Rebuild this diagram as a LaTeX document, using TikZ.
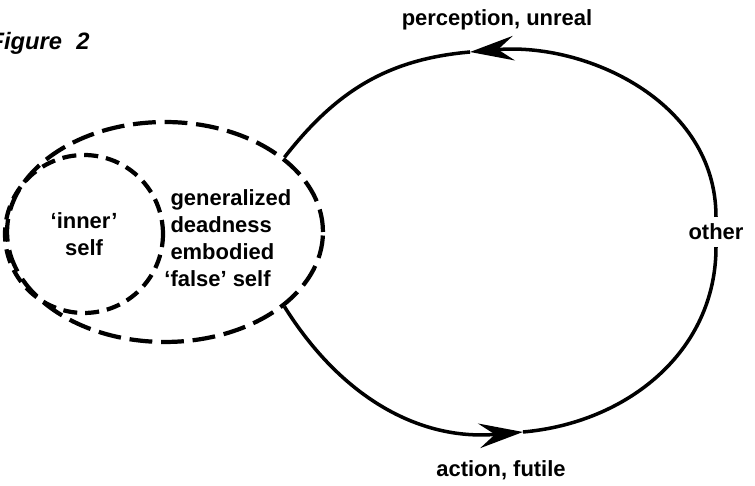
\documentclass[tikz,border=0pt]{standalone}
\usepackage{fontspec}
\setmainfont{Liberation Sans}
\usetikzlibrary{arrows.meta,shapes.geometric}

\begin{document}
\begin{tikzpicture}[x=0.02cm,y=0.02cm,>={Stealth[length=25pt,width=14pt,inset=9pt]},line width=2pt,font=\bfseries\fontsize{12.5}{15.3}\selectfont]
  \tikzstyle{dashy}=[draw,dash pattern=on 13pt off 5pt,line width=2.4pt]
  \tikzstyle{txt}=[inner sep=1pt,align=left]

  \useasboundingbox (0,0) rectangle (755,486);

  \node[anchor=base west,font=\bfseries\itshape\fontsize{13.5}{16}\selectfont] (T) at (-18,436) {Figure\hspace{0.6em}2};

  \node[dashy,ellipse,minimum width=6.32cm,minimum height=4.4cm,inner sep=0pt] (E) at (165,254) {};
  \node[dashy,circle,minimum size=3.16cm,align=center,dash pattern=on 8pt off 4.5pt] (S) at (84,252) {‘inner’\\self};
  \node[txt,anchor=west] (F) at (167,248) {generalized\\deadness\\embodied\\\llap{‘}false’ self};

  \node[txt,inner sep=3pt] (O) at (716,254) {other};
  \node[txt] (U) at (497,466) {perception, unreal};
  \node[txt] (A) at (501,16) {action, futile};

  \coordinate (P) at (523,54);
  \coordinate (Q) at (470,434);

  \path (E.-32) edge[->,out=-58,in=185] (P)
        (P) edge[-,out=5,in=-90] (O)
        (O) edge[->,out=90,in=5] (Q)
        (Q) edge[-,out=185,in=52] (E.32);

\end{tikzpicture}
\end{document}
